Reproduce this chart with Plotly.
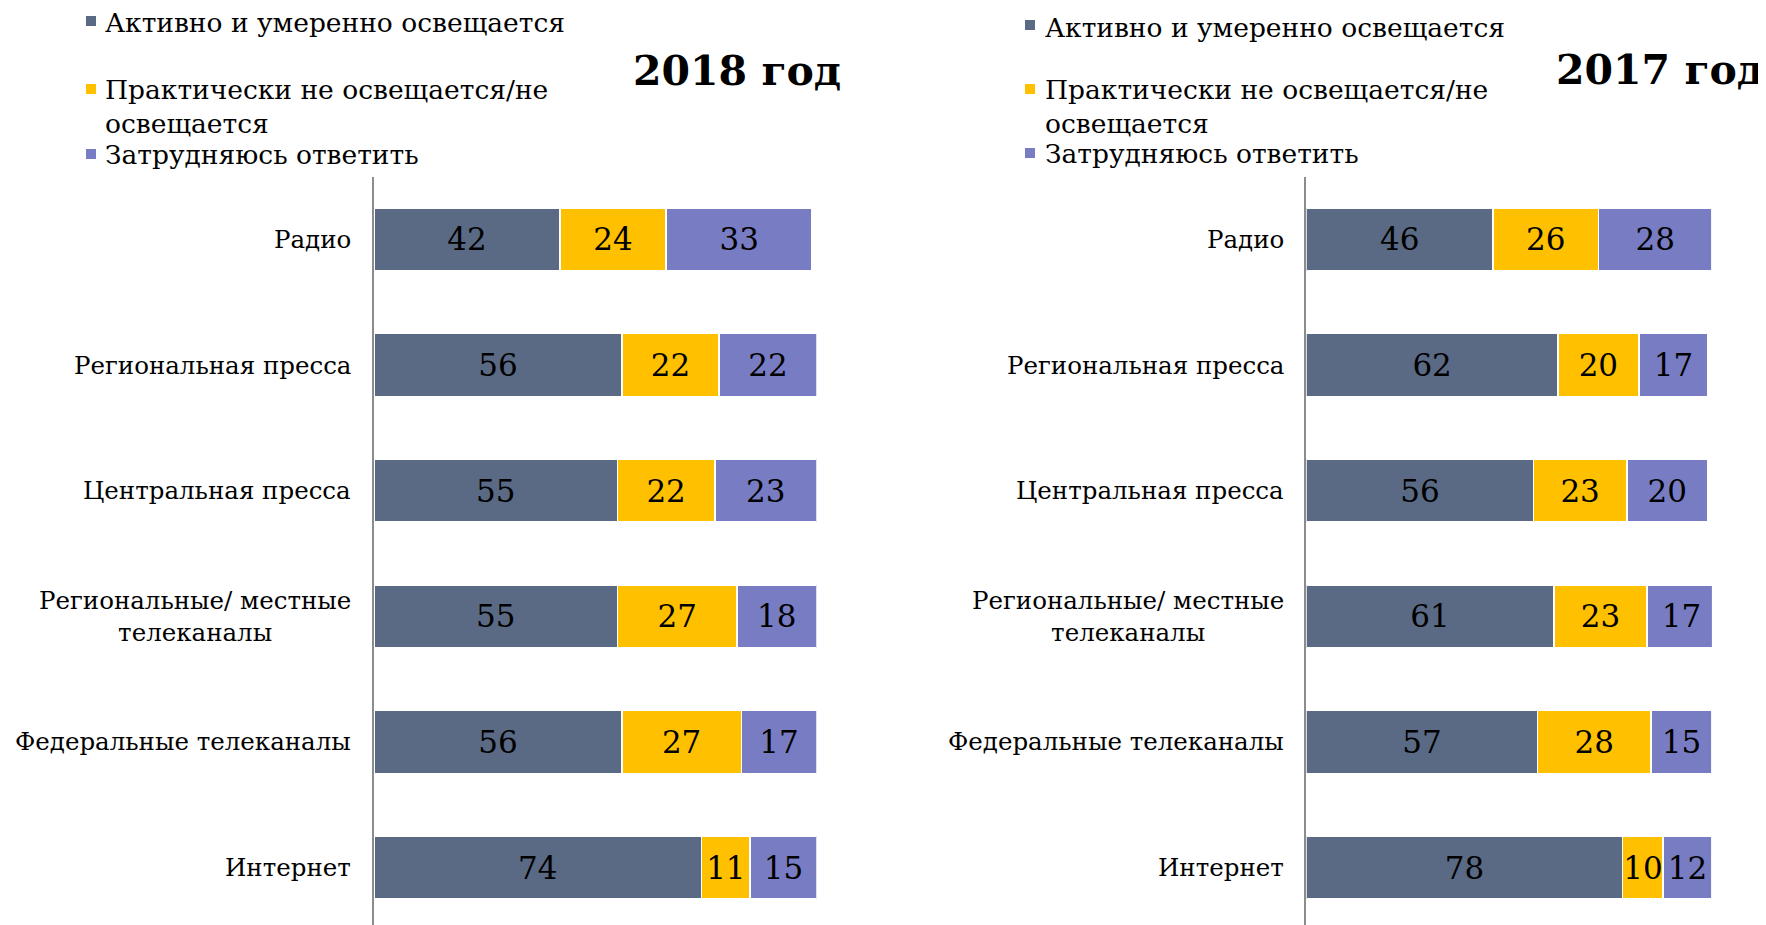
import plotly.graph_objects as go

W, H = 1766, 925
OFF = 8  # browser default body margin

categories = ["Радио", "Региональная пресса", "Центральная пресса",
              "Региональные/ местные телеканалы", "Федеральные телеканалы", "Интернет"]
cat_labels = ["Радио", "Региональная пресса", "Центральная пресса",
              "Региональные/ местные<br>телеканалы", "Федеральные телеканалы", "Интернет"]

series_names = ["Активно и умеренно освещается",
                "Практически не освещается/не<br>освещается",
                "Затрудняюсь ответить"]
colors = ["#5A6A84", "#FFC000", "#787DC3"]

active_2018 = [42, 56, 55, 55, 56, 74]
none_2018 = [24, 22, 22, 27, 27, 11]
hard_2018 = [33, 22, 23, 18, 17, 15]

active_2017 = [46, 62, 56, 61, 57, 78]
none_2017 = [26, 20, 23, 23, 28, 10]
hard_2017 = [28, 17, 20, 17, 15, 12]

FONT = "DejaVu Serif"

def px(x):
    return (x - OFF) / W

def py(y):
    return 1 - (y - OFF) / H

fig = go.Figure()

panels = [
    ("x", "y", [active_2018, none_2018, hard_2018]),
    ("x2", "y2", [active_2017, none_2017, hard_2017]),
]
for xa, ya, vals in panels:
    for name, col, v in zip(series_names, colors, vals):
        fig.add_trace(go.Bar(
            y=categories, x=v, orientation="h", name=name,
            marker=dict(color=col, line=dict(color="white", width=1.5)),
            text=[str(t) for t in v], textposition="inside",
            insidetextanchor="middle", textangle=0,
            textfont=dict(family=FONT, size=31, color="black"),
            constraintext="none",
            xaxis=xa, yaxis=ya, showlegend=False, hoverinfo="skip",
        ))

ydom = [0, py(176.5)]
yrange = [5.52, -0.5]
fig.update_layout(
    width=W, height=H,
    margin=dict(l=0, r=0, t=0, b=0),
    paper_bgcolor="white", plot_bgcolor="white",
    barmode="stack", bargap=0.5,
    uniformtext=dict(minsize=31, mode="show"),
    xaxis=dict(domain=[px(374), px(816.6)], range=[0, 100], visible=False),
    xaxis2=dict(domain=[px(1306.4), px(1711.9)], range=[0, 100], visible=False),
    yaxis=dict(domain=ydom, anchor="x", range=yrange, type="category",
               showline=True, linecolor="#8C8C8C", linewidth=2,
               showticklabels=False, showgrid=False, ticks=""),
    yaxis2=dict(domain=ydom, anchor="x2", range=yrange, type="category",
                showline=True, linecolor="#8C8C8C", linewidth=2,
                showticklabels=False, showgrid=False, ticks=""),
    font=dict(family=FONT, color="black"),
)

annotations = []
shapes = []

# category labels
for ya, xr in [("y", 353), ("y2", 1286)]:
    for cat, lab in zip(categories, cat_labels):
        annotations.append(dict(
            x=px(xr), xref="paper", y=cat, yref=ya, text=lab,
            showarrow=False, xanchor="right", yanchor="middle", align="center",
            font=dict(family=FONT, size=24.5, color="black"),
        ))

# legends
legend_sets = [
    (86, 103, [22.5, 106, 155], [21, 89, 154]),
    (1025, 1043, [27, 106, 154], [25, 89, 153]),
]
for mx, tx, ty, my in legend_sets:
    for name, col, yt, ym in zip(series_names, colors, ty, my):
        annotations.append(dict(
            x=px(tx), xref="paper", y=py(yt), yref="paper", text=name,
            showarrow=False, xanchor="left", yanchor="middle", align="left",
            font=dict(family=FONT, size=26.5, color="black"),
        ))
        shapes.append(dict(
            type="rect", xref="paper", yref="paper",
            x0=px(mx), x1=px(mx + 10), y0=py(ym - 5), y1=py(ym + 5),
            fillcolor=col, line=dict(width=0),
        ))

# titles
for t, cx, cy in [("2018 год", 737, 71), ("2017 год", 1660, 70)]:
    annotations.append(dict(
        x=px(cx), xref="paper", y=py(cy), yref="paper", text="<b>" + t + "</b>",
        showarrow=False, xanchor="center", yanchor="middle",
        font=dict(family=FONT, size=41, color="black"),
    ))

fig.update_layout(annotations=annotations, shapes=shapes)
fig.write_html("out.html")
